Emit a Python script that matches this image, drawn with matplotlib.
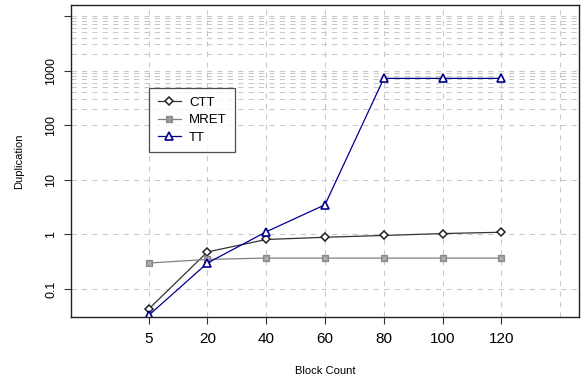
# duplication vs block count, log scale, R-style look
import matplotlib
matplotlib.use("Agg")
import matplotlib.pyplot as plt

plt.rcParams['font.family'] = ['Liberation Sans', 'DejaVu Sans']

# data
block_counts = ["5", "20", "40", "60", "80", "100", "120"]
ctt = [0.043, 0.48, 0.81, 0.89, 0.96, 1.04, 1.10]
mret = [0.30, 0.35, 0.37, 0.37, 0.37, 0.37, 0.37]
tt = [0.033, 0.30, 1.12, 3.5, 720, 720, 720]

y_ticks = [0.1, 1, 10, 100, 1000, 10000]
y_labels = ["0.1", "1", "10", "100", "1000", ""]

pos = list(range(1, len(block_counts) + 1))

fig = plt.figure(figsize=(5.81, 3.85), dpi=100)
ax = fig.add_axes([71 / 581, 68 / 385, 508 / 581, 312 / 385])

# grid first so lines sit on top
grid_kw = dict(color="#c8c8c8", linewidth=0.75, linestyle=(0, (5, 5)))
ax.set_yscale("log")
ax.set_yticks(y_ticks)
ax.set_yticklabels(y_labels)
ax.set_yticks([k * 100 for k in range(2, 10)] + [k * 1000 for k in range(2, 10)], minor=True)
ax.set_xticks(pos)
ax.set_xticklabels(block_counts)
ax.set_xticks([len(block_counts) + 1], minor=True)
ax.grid(True, which="both", **grid_kw)
ax.set_axisbelow(True)

ax.plot(pos, ctt, color="#333333", lw=0.9, marker="D", ms=4.5, mfc="white",
        mec="#222222", mew=1.1, label="CTT")
ax.plot(pos, mret, color="#808080", lw=0.9, marker="s", ms=4.5, mfc="#999999",
        mec="#888888", mew=0.9, label="MRET")
ax.plot(pos, mret, color="none", marker="x", ms=2.5, mec="#c4c4c4", mew=0.5)
ax.plot(pos, tt, color="#00008b", lw=0.9, marker="^", ms=5.5, mfc="white",
        mec="#00008b", mew=1.2, label="TT")

ax.set_xlim(-0.32, 8.32)
ax.set_ylim(10 ** -1.51, 10 ** 4.2)

ax.tick_params(axis="both", which="major", direction="out", length=5,
               width=0.8, color="#333333")
ax.tick_params(axis="both", which="minor", length=0)
ax.tick_params(axis="x", labelsize=11, pad=6)
ax.tick_params(axis="y", labelsize=9, pad=5)
for lab in ax.get_yticklabels():
    lab.set_rotation(90)
    lab.set_va("center")
for sp in ax.spines.values():
    sp.set_color("#222222")
    sp.set_linewidth(1.0)

ax.set_xlabel("Block Count", fontsize=8, labelpad=14)
ax.set_ylabel("Duplication", fontsize=8, labelpad=15)

leg = ax.legend(loc="upper left", bbox_to_anchor=((149 - 71) / 508, (317 - 88) / 312),
                fontsize=9.5, frameon=True, fancybox=False, handlelength=1.8,
                borderpad=0.65, labelspacing=0.4, handletextpad=0.6,
                borderaxespad=0)
leg.get_frame().set_edgecolor("#222222")
leg.get_frame().set_linewidth(0.9)

fig.savefig("out.png", dpi=100)
